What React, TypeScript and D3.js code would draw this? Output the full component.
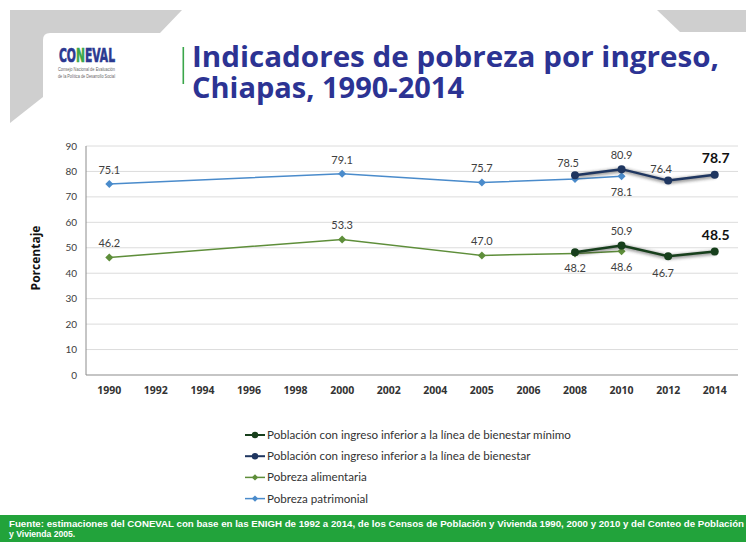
import React from "react";
import * as d3 from "d3";

const categories = ["1990","1992","1994","1996","1998","2000","2002","2004","2005","2006","2008","2010","2012","2014"];
const yTicks = [0,10,20,30,40,50,60,70,80,90];

const patYears = ["1990","2000","2005","2008","2010"];
const patValues = [75.1, 79.1, 75.7, 77.0, 78.1];
const aliYears = ["1990","2000","2005","2008","2010"];
const aliValues = [46.2, 53.3, 47.0, 47.8, 48.6];
const bienYears = ["2008","2010","2012","2014"];
const bienValues = [78.5, 80.9, 76.4, 78.7];
const minYears = ["2008","2010","2012","2014"];
const minValues = [48.2, 50.9, 46.7, 48.5];

// label placement (semantic): a = above, b = below
const patLabelPlace = ["a","a","a","","b"];
const aliLabelPlace = ["a","a","a","","b"];
const bienLabelPlace = ["al","a","al","A"];
const minLabelPlace = ["b","a","bl","A"];

const legendLabels = [
  "Población con ingreso inferior a la línea de bienestar mínimo",
  "Población con ingreso inferior a la línea de bienestar",
  "Pobreza alimentaria",
  "Pobreza patrimonial",
];

const C_PAT = "#4a8bcb";
const C_ALI = "#5e8e3a";
const C_BIEN = "#1f3660";
const C_MIN = "#173f1c";

const x = d3.scalePoint<string>().domain(categories).range([86, 738]).padding(0.5);
const y = d3.scaleLinear().domain([0, 90]).range([375, 146]);

function diamond(cx: number, cy: number, r: number) {
  return `M${cx},${cy - r}L${cx + r},${cy}L${cx},${cy + r}L${cx - r},${cy}Z`;
}

function labelPos(place: string, px: number, py: number) {
  switch (place) {
    case "a": return { x: px, y: py - 10 };
    case "al": return { x: px - 7, y: py - 8 };
    case "A": return { x: px + 1, y: py - 12 };
    case "b": return { x: px, y: py + 20 };
    case "bl": return { x: px - 5, y: py + 21 };
    default: return null;
  }
}

function Series({ years, values, color, width, kind, shadow }: any) {
  const line = d3.line<number>().x((_, i) => x(years[i])!).y((v) => y(v));
  return (
    <g>
      {shadow && (
        <g filter="url(#soft)" opacity={0.45}>
          <path d={line(values)!} fill="none" stroke="#2a2a2a" strokeWidth={width + 2} transform="translate(0.5,1)" />
        </g>
      )}
      <path d={line(values)!} fill="none" stroke={color} strokeWidth={width} />
      {values.map((v: number, i: number) => {
        const px = x(years[i])!;
        const py = y(v);
        return kind === "circle" ? (
          <circle key={i} cx={px} cy={py} r={4} fill={color} />
        ) : (
          <path key={i} d={diamond(px, py, 4)} fill={color} />
        );
      })}
    </g>
  );
}

function Labels({ years, values, places }: any) {
  return (
    <g>
      {values.map((v: number, i: number) => {
        const p = labelPos(places[i], x(years[i])!, y(v));
        if (!p) return null;
        const big = places[i] === "A";
        return (
          <text key={i} x={p.x} y={p.y} textAnchor="middle"
            fontFamily="Lato, 'Open Sans', sans-serif"
            fontSize={big ? 14 : 11} fontWeight={big ? 700 : 400}
            fill={big ? "#111" : "#404040"}>
            {v.toFixed(1)}
          </text>
        );
      })}
    </g>
  );
}

export default function App() {
  return (
    <svg width={746} height={542} style={{ position: "absolute", left: 0, top: 0, background: "#fff" }}
      xmlns="http://www.w3.org/2000/svg">
      <defs>
        <filter id="soft" x="-10%" y="-50%" width="120%" height="200%">
          <feGaussianBlur stdDeviation="1.4" />
        </filter>
      </defs>
      <rect width={746} height={542} fill="#fff" />
      {/* header decoration */}
      <path d="M10,10 L182,10 L160,33 L50,33 Q43,33 43,40 L43,97 L10,123 Z" fill="#cfcfcf" />
      <path d="M657,10 L746,10 L746,32 L680,32 Z" fill="#cfcfcf" />
      {/* logo */}
      <text x={59} y={62} fontFamily="'DejaVu Sans', sans-serif" fontWeight={700} fontSize={19}
        textLength={56} lengthAdjust="spacingAndGlyphs" fill="#2b3990" stroke="#2b3990" strokeWidth={0.7}>
        CO<tspan fill="#3aa64a" stroke="#3aa64a">N</tspan>EVAL
      </text>
      <text x={58} y={70.5} fontFamily="'Liberation Sans', sans-serif" fontSize={5} fill="#666"
        textLength={57} lengthAdjust="spacingAndGlyphs">Consejo Nacional de Evaluación</text>
      <text x={58} y={78} fontFamily="'Liberation Sans', sans-serif" fontSize={5} fill="#666"
        textLength={57} lengthAdjust="spacingAndGlyphs">de la Política de Desarrollo Social</text>
      <rect x={182.5} y={47} width={1.6} height={37} fill="#3aa64a" />
      <text x={192} y={67} fontFamily="'Open Sans', sans-serif" fontWeight={700} fontSize={29}
        fill="#2c3393" textLength={527} lengthAdjust="spacingAndGlyphs">Indicadores de pobreza por ingreso,</text>
      <text x={192} y={98} fontFamily="'Open Sans', sans-serif" fontWeight={700} fontSize={29}
        fill="#2c3393" textLength={272} lengthAdjust="spacingAndGlyphs">Chiapas, 1990-2014</text>

      {/* grid */}
      {yTicks.filter((t) => t > 0).map((t) => (
        <line key={t} x1={86} x2={738} y1={y(t)} y2={y(t)} stroke="#dcdcdc" strokeWidth={1} />
      ))}
      <line x1={86} x2={86} y1={y(90)} y2={y(0)} stroke="#8c8c8c" strokeWidth={1} />
      <line x1={86} x2={738} y1={y(0)} y2={y(0)} stroke="#8c8c8c" strokeWidth={1.2} />
      {yTicks.map((t) => (
        <text key={t} x={77} y={y(t) + 3.5} textAnchor="end" fontFamily="Lato, sans-serif" fontSize={10} fill="#404040">{t}</text>
      ))}
      {categories.map((c) => (
        <text key={c} x={x(c)!} y={394} textAnchor="middle" fontFamily="'Open Sans', sans-serif" fontWeight={700} fontSize={10.5} fill="#333">{c}</text>
      ))}
      <text transform="translate(40,258) rotate(-90)" textAnchor="middle" fontFamily="'Open Sans', sans-serif" fontWeight={700} fontSize={12} fill="#111">Porcentaje</text>

      {/* series */}
      <Series years={patYears} values={patValues} color={C_PAT} width={1.5} kind="diamond" />
      <Series years={aliYears} values={aliValues} color={C_ALI} width={1.5} kind="diamond" />
      <Series years={bienYears} values={bienValues} color={C_BIEN} width={2.5} kind="circle" shadow />
      <Series years={minYears} values={minValues} color={C_MIN} width={2.5} kind="circle" shadow />
      <Labels years={patYears} values={patValues} places={patLabelPlace} />
      <Labels years={aliYears} values={aliValues} places={aliLabelPlace} />
      <Labels years={bienYears} values={bienValues} places={bienLabelPlace} />
      <Labels years={minYears} values={minValues} places={minLabelPlace} />

      {/* legend */}
      {legendLabels.map((l, i) => {
        const ly = 435 + i * 21.2;
        const col = [C_MIN, C_BIEN, C_ALI, C_PAT][i];
        const circ = i < 2;
        return (
          <g key={l}>
            <line x1={245} x2={265} y1={ly} y2={ly} stroke={col} strokeWidth={circ ? 2 : 1.5} />
            {circ ? <circle cx={255} cy={ly} r={3.2} fill={col} /> : <path d={diamond(255, ly, 3.2)} fill={col} />}
            <text x={267} y={ly + 4} fontFamily="Lato, sans-serif" fontSize={11.6} fill="#333">{l}</text>
          </g>
        );
      })}

      {/* footer */}
      <rect x={0} y={515} width={746} height={27} fill="#22a33b" />
      <text x={9} y={527} fontFamily="'Liberation Sans Narrow', 'Liberation Sans', sans-serif" fontWeight={700} fontSize={8.6}
        fill="#fff" textLength={735} lengthAdjust="spacingAndGlyphs">Fuente:  estimaciones del CONEVAL  con base en las ENIGH  de 1992 a 2014, de los Censos de Población  y Vivienda  1990, 2000 y 2010 y  del Conteo de Población</text>
      <text x={9} y={537} fontFamily="'Liberation Sans Narrow', 'Liberation Sans', sans-serif" fontWeight={700} fontSize={8.6}
        fill="#fff">y Vivienda  2005.</text>
    </svg>
  );
}
